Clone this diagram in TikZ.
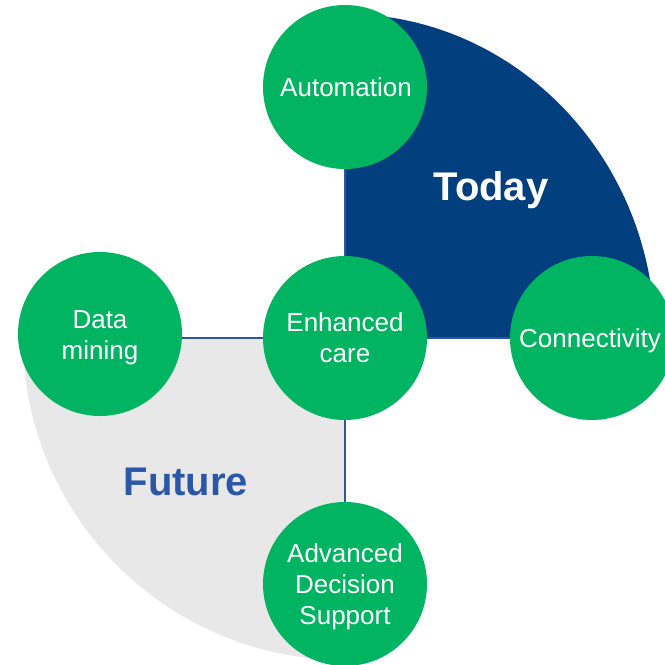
\documentclass[tikz,border=0pt]{standalone}
\usepackage{fontspec}
\setmainfont{Liberation Sans}
\definecolor{cgreen}{HTML}{00B462}
\definecolor{cnavy}{HTML}{023F7E}
\definecolor{cgrey}{HTML}{E8E8E8}
\definecolor{cline}{HTML}{2F56A2}
\definecolor{cfuture}{HTML}{2B58A6}
\begin{document}
\begin{tikzpicture}[x=1pt,y=-1pt,
  bubble/.style={circle,fill=cgreen,minimum size=164pt,inner sep=0pt},
  btext/.style={text=white,align=center,inner sep=0pt,font=\fontsize{26}{31}\selectfont},
  conn/.style={draw=cline,line width=1.4pt},
  big/.style={font=\fontsize{40}{46}\selectfont\bfseries}]
\useasboundingbox (0,0) rectangle (665,665);
\clip (0,0) rectangle (665,665);
% quarter regions
\fill[cgrey] (345,338) -- (23,338) arc[start angle=180,end angle=270,radius=322pt] -- cycle;
\fill[cnavy] (345,338) -- (345,14) arc[start angle=90,end angle=0,x radius=310pt,y radius=324pt] -- cycle;
% bubbles
\node[bubble] (auto) at (345,87) {};
\node[bubble] (enh) at (345,338) {};
\node[bubble] (conv) at (592,338) {};
\node[bubble] (dm) at (100,334) {};
\node[bubble] (ads) at (345,584) {};
% connectors
\draw[conn] (auto) -- (enh);
\draw[conn] (enh) -- (conv);
\draw[conn] (dm.east |- enh.west) -- (enh.west);
\draw[conn] (enh) -- (ads);
% bubble texts
\node[btext] (tauto) at (346,87) {Automation};
\node[btext] (tenh) at (345,338) {Enhanced\\care};
\node[btext] (tconv) at (590,341) {Connectivity};
\node[btext] (tdm) at (100,338) {Data\\mining};
\node[btext] (tads) at (345,586.5) {Advanced\\Decision\\Support};
% labels
\node[big,text=white] (today) at (491,190) {Today};
\node[big,text=cfuture] (future) at (186,482) {Future};
\end{tikzpicture}
\end{document}
